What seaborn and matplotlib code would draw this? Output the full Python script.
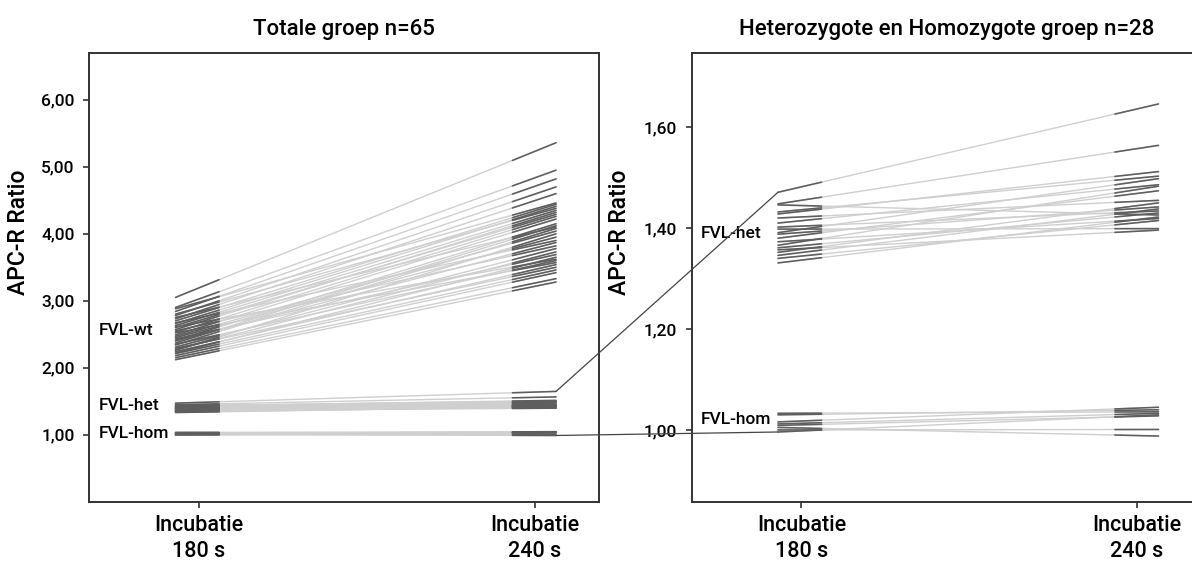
import numpy as np
import pandas as pd
import matplotlib
matplotlib.use("Agg")
import matplotlib.pyplot as plt
import seaborn as sns
from matplotlib.patches import ConnectionPatch

# APC-R ratio per subject, read at the two ends of each drawn line
wt_180 = [3.05, 2.90, 2.88, 2.84, 2.80, 2.78, 2.75, 2.73, 2.70, 2.67, 2.66, 2.63,
          2.61, 2.60, 2.57, 2.55, 2.53, 2.52, 2.49, 2.47, 2.45, 2.43, 2.41, 2.40,
          2.37, 2.35, 2.34, 2.31, 2.29, 2.27, 2.26, 2.24, 2.22, 2.21, 2.18, 2.15, 2.12]
wt_240 = [5.36, 4.95, 4.46, 4.82, 4.38, 4.70, 4.10, 4.60, 4.44, 3.90, 4.41, 4.35,
          3.62, 4.29, 4.32, 3.82, 4.26, 3.57, 4.22, 4.04, 3.95, 3.69, 4.15, 3.87,
          4.12, 3.60, 4.08, 3.78, 3.50, 3.73, 4.00, 3.54, 3.65, 3.46, 3.42, 3.33, 3.28]
het_180 = [1.471, 1.448, 1.446, 1.432, 1.428, 1.420, 1.410, 1.402, 1.398, 1.391,
           1.388, 1.380, 1.373, 1.366, 1.361, 1.357, 1.352, 1.346, 1.340, 1.331]
het_240 = [1.646, 1.564, 1.426, 1.503, 1.512, 1.455, 1.486, 1.434, 1.399, 1.498,
           1.442, 1.474, 1.419, 1.483, 1.430, 1.396, 1.450, 1.438, 1.415, 1.422]
hom_180 = [1.033, 1.030, 1.016, 1.012, 1.009, 1.005, 1.000, 0.996]
hom_240 = [1.036, 1.040, 1.045, 1.033, 1.028, 0.988, 1.001, 1.030]

x_labels = ["Incubatie\n180 s", "Incubatie\n240 s"]
titles = ["Totale groep n=65", "Heterozygote en Homozygote groep n=28"]

XL, XR, SEG = -0.07, 1.064, 0.13
DARK, LIGHT = "#5e5e5e", "#cfcfcf"
W = "medium"

sns.set_style("ticks")
plt.rcParams["font.family"] = ["Roboto", "DejaVu Sans"]
plt.rcParams["axes.edgecolor"] = "#333333"
plt.rcParams["axes.linewidth"] = 1.4
plt.rcParams["text.color"] = "black"
plt.rcParams["axes.labelcolor"] = "black"
plt.rcParams["xtick.color"] = "#333333"
plt.rcParams["ytick.color"] = "#333333"
plt.rcParams["xtick.labelcolor"] = "black"
plt.rcParams["ytick.labelcolor"] = "black"


def make_frame(groups):
    rows = []
    sid = 0
    for start, end in groups:
        for a, b in zip(start, end):
            slope = (b - a) / (XR - XL)
            for x in [XL, XL + SEG, XR - SEG, XR]:
                part = "L" if x < 0.5 else "R"
                rows.append(dict(id=sid, x=x, y=a + slope * (x - XL), part=part))
            sid += 1
    return pd.DataFrame(rows)


def draw(ax, df):
    sns.lineplot(data=df, x="x", y="y", units="id", estimator=None,
                 color=LIGHT, lw=1.0, ax=ax, sort=False)
    ends = df.copy()
    ends["seg"] = ends["id"].astype(str) + ends["part"]
    sns.lineplot(data=ends, x="x", y="y", units="seg", estimator=None,
                 color=DARK, lw=1.15, ax=ax, sort=False)


fig = plt.figure(figsize=(11.92, 5.62), dpi=100)
ax1 = fig.add_axes([0.0749, 0.1074, 0.4279, 0.7983])
ax2 = fig.add_axes([0.5803, 0.1074, 0.4279, 0.7983])

draw(ax1, make_frame([(wt_180, wt_240), (het_180, het_240), (hom_180, hom_240)]))
draw(ax2, make_frame([(het_180, het_240), (hom_180, hom_240)]))

ax1.set_ylim(0, 6.7)
ax1.set_yticks([1, 2, 3, 4, 5, 6])
ax1.set_yticklabels(["1,00", "2,00", "3,00", "4,00", "5,00", "6,00"])

ax2.set_ylim(0.858, 1.747)
ax2.set_yticks([1.0, 1.2, 1.4, 1.6])
ax2.set_yticklabels(["1,00", "1,20", "1,40", "1,60"])

for ax, title, lx in zip([ax1, ax2], titles, [-0.116, -0.119]):
    ax.set_xlim(-0.327, 1.193)
    ax.set_xticks([0, 1])
    ax.set_xticklabels(x_labels, fontsize=15.5, linespacing=1.3, fontweight=W)
    ax.tick_params(axis="x", length=4.5, width=1.2, pad=5)
    ax.tick_params(axis="y", length=4.5, width=1.2, labelsize=12.5, pad=6)
    for lab in ax.get_yticklabels():
        lab.set_fontweight(W)
    ax.set_xlabel("")
    ax.set_ylabel("APC-R Ratio", fontsize=16.5, fontweight=W)
    ax.yaxis.set_label_coords(lx, 0.60)
    ax.set_title(title, fontsize=16, pad=13, fontweight=W)

ax1.text(-0.298, 2.56, "FVL-wt", fontsize=12.5, va="center", fontweight=W)
ax1.text(-0.298, 1.43, "FVL-het", fontsize=12.5, va="center", fontweight=W)
ax1.text(-0.298, 1.02, "FVL-hom", fontsize=12.5, va="center", fontweight=W)
ax2.text(-0.30, 1.39, "FVL-het", fontsize=12.5, va="center", fontweight=W)
ax2.text(-0.30, 1.02, "FVL-hom", fontsize=12.5, va="center", fontweight=W)

# zoom connectors between the panels
top = int(np.argmax(het_240))
low = int(np.argmin(hom_240))
for y1, y2 in [(het_240[top], het_180[top]), (hom_240[low], min(hom_180))]:
    con = ConnectionPatch(xyA=(XR, y1), coordsA=ax1.transData,
                          xyB=(XL, y2), coordsB=ax2.transData,
                          color="#444444", lw=0.9)
    fig.add_artist(con)

fig.savefig("out.png", dpi=100)
